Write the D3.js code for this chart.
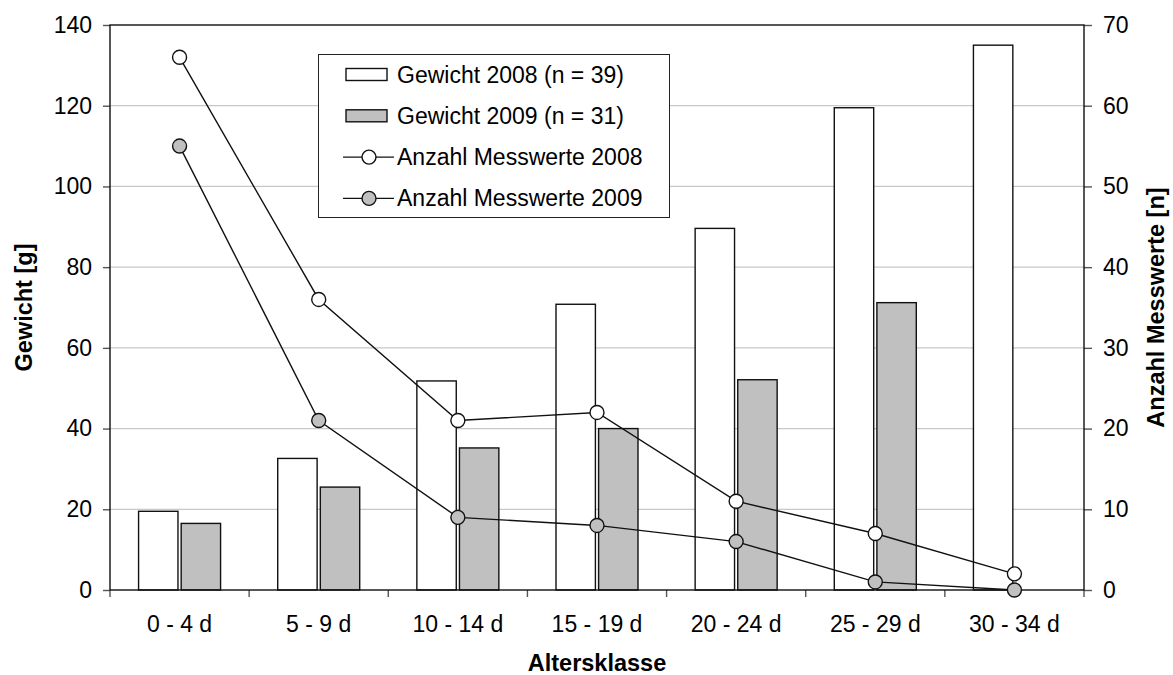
<!DOCTYPE html>
<html>
<head>
<meta charset="utf-8">
<script src="https://cdn.jsdelivr.net/npm/d3@7"></script>
<style>
  html, body { margin: 0; padding: 0; background: #fff; }
  svg { display: block; font-family: "Liberation Sans", Arial, sans-serif; }
</style>
</head>
<body>
<svg id="chart" width="1173" height="675"></svg>
<script>
// Age classes (x axis)
const categories = ["0 - 4 d", "5 - 9 d", "10 - 14 d", "15 - 19 d", "20 - 24 d", "25 - 29 d", "30 - 34 d"];
// Mean weight per age class [g] (left axis)
const weight2008 = [19.5, 32.6, 51.8, 70.8, 89.6, 119.5, 135.0];
const weight2009 = [16.5, 25.5, 35.2, 40.0, 52.1, 71.2, null];
// Number of measurements per age class (right axis)
const count2008 = [66, 36, 21, 22, 11, 7, 2];
const count2009 = [55, 21, 9, 8, 6, 1, 0];
// Axis ticks
const leftTicks = [0, 20, 40, 60, 80, 100, 120, 140];
const rightTicks = [0, 10, 20, 30, 40, 50, 60, 70];
// Legend entries
const legendLabels = ["Gewicht 2008 (n = 39)", "Gewicht 2009 (n = 31)", "Anzahl Messwerte 2008", "Anzahl Messwerte 2009"];

const svg = d3.select("#chart");
const plot = { left: 110, right: 1084, top: 25, bottom: 590 };
const tickFont = 23;
const titleFont = 23.5;
const legendFont = 23;

const x = d3.scaleBand().domain(categories).range([plot.left, plot.right]).padding(0);
const yL = d3.scaleLinear().domain([0, 140]).range([plot.bottom, plot.top]);
const yR = d3.scaleLinear().domain([0, 70]).range([plot.bottom, plot.top]);
const sub = d3.scaleBand().domain(["2008", "2009"]).range([-41, 41]).paddingInner(0.075);
const cx = c => x(c) + x.bandwidth() / 2;

const fill2009 = "#c0c0c0";

// Horizontal gridlines
svg.append("g")
  .selectAll("line")
  .data(leftTicks.filter(t => t > 0 && t < 140))
  .join("line")
  .attr("x1", plot.left).attr("x2", plot.right)
  .attr("y1", d => yL(d)).attr("y2", d => yL(d))
  .attr("stroke", "#c8c8c8").attr("stroke-width", 1.2);

// Bars
const bars = [
  { key: "2008", values: weight2008, fill: "#ffffff" },
  { key: "2009", values: weight2009, fill: fill2009 }
];
bars.forEach(s => {
  svg.append("g")
    .selectAll("rect")
    .data(categories.map((c, i) => ({ c, v: s.values[i] })).filter(d => d.v != null))
    .join("rect")
    .attr("x", d => cx(d.c) + sub(s.key))
    .attr("width", sub.bandwidth())
    .attr("y", d => yL(d.v))
    .attr("height", d => yL(0) - yL(d.v))
    .attr("fill", s.fill)
    .attr("stroke", "#111")
    .attr("stroke-width", 1.4);
});

// Axes
const axisLeft = d3.axisLeft(yL).tickValues(leftTicks).tickSize(7).tickPadding(11);
const axisRight = d3.axisRight(yR).tickValues(rightTicks).tickSize(8).tickPadding(11);
const axisBottom = d3.axisBottom(x).tickSize(0).tickPadding(26);

function styleAxis(g) {
  g.select(".domain").remove();
  g.selectAll(".tick line").attr("stroke", "#555").attr("stroke-width", 1.4);
  g.selectAll(".tick text").attr("font-size", tickFont).attr("fill", "#000")
    .attr("font-family", "Liberation Sans, Arial, sans-serif");
}
svg.append("g").attr("transform", `translate(${plot.left},0)`).call(axisLeft).call(styleAxis);
svg.append("g").attr("transform", `translate(${plot.right},0)`).call(axisRight).call(styleAxis);
svg.append("g").attr("transform", `translate(0,${plot.bottom})`).call(axisBottom).call(styleAxis);

// Category boundary ticks on the x axis
svg.append("g")
  .selectAll("line")
  .data(categories.map(c => x(c)).concat([plot.right]))
  .join("line")
  .attr("x1", d => d).attr("x2", d => d)
  .attr("y1", plot.bottom).attr("y2", plot.bottom + 7)
  .attr("stroke", "#555").attr("stroke-width", 1.4);

// Plot frame
svg.append("rect")
  .attr("x", plot.left).attr("y", plot.top)
  .attr("width", plot.right - plot.left).attr("height", plot.bottom - plot.top)
  .attr("fill", "none").attr("stroke", "#111").attr("stroke-width", 1.4);

// Measurement count lines
const lines = [
  { values: count2008, fill: "#ffffff" },
  { values: count2009, fill: fill2009 }
];
const lineGen = d3.line().x(d => cx(d.c)).y(d => yR(d.v));
lines.forEach(s => {
  const pts = categories.map((c, i) => ({ c, v: s.values[i] }));
  svg.append("path").datum(pts)
    .attr("d", lineGen)
    .attr("fill", "none").attr("stroke", "#111").attr("stroke-width", 1.4);
  svg.append("g").selectAll("circle").data(pts).join("circle")
    .attr("cx", d => cx(d.c)).attr("cy", d => yR(d.v)).attr("r", 7)
    .attr("fill", s.fill).attr("stroke", "#111").attr("stroke-width", 1.4);
});

// Axis titles
svg.append("text")
  .attr("transform", `translate(32,${(plot.top + plot.bottom) / 2}) rotate(-90)`)
  .attr("text-anchor", "middle").attr("font-size", titleFont).attr("font-weight", "bold")
  .text("Gewicht [g]");
svg.append("text")
  .attr("transform", `translate(1164,${(plot.top + plot.bottom) / 2}) rotate(-90)`)
  .attr("text-anchor", "middle").attr("font-size", titleFont).attr("font-weight", "bold")
  .text("Anzahl Messwerte [n]");
svg.append("text")
  .attr("x", (plot.left + plot.right) / 2).attr("y", 671)
  .attr("text-anchor", "middle").attr("font-size", titleFont).attr("font-weight", "bold")
  .text("Altersklasse");

// Legend
const legend = svg.append("g");
legend.append("rect")
  .attr("x", 318.5).attr("y", 54.5).attr("width", 351).attr("height", 163)
  .attr("fill", "#fff").attr("stroke", "#222").attr("stroke-width", 1);
const rowY = i => 74.5 + i * 41.3;
legendLabels.forEach((label, i) => {
  const yy = rowY(i);
  if (i < 2) {
    legend.append("rect")
      .attr("x", 346).attr("y", yy - 6).attr("width", 41).attr("height", 12)
      .attr("fill", i === 0 ? "#fff" : fill2009).attr("stroke", "#111").attr("stroke-width", 1.4);
  } else {
    legend.append("line")
      .attr("x1", 343).attr("x2", 394).attr("y1", yy).attr("y2", yy)
      .attr("stroke", "#111").attr("stroke-width", 1.4);
    legend.append("circle")
      .attr("cx", 369).attr("cy", yy).attr("r", 7)
      .attr("fill", i === 2 ? "#fff" : fill2009).attr("stroke", "#111").attr("stroke-width", 1.4);
  }
  legend.append("text")
    .attr("x", 397).attr("y", yy).attr("dy", "0.35em")
    .attr("font-size", legendFont).attr("fill", "#000")
    .text(label);
});
</script>
</body>
</html>
